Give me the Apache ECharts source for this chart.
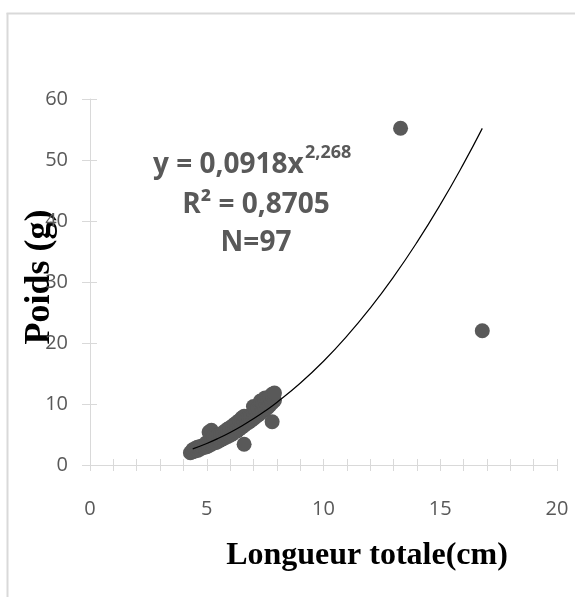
<!DOCTYPE html>
<html>
<head>
<meta charset="utf-8">
<script src="https://cdn.jsdelivr.net/npm/echarts@6/dist/echarts.min.js"></script>
<style>html,body{margin:0;padding:0;background:#fff;}#c{width:575px;height:597px;}</style>
</head>
<body>
<div id="c"></div>
<script>
// Observed data (length cm, weight g)
var lengthCm = [4.3,4.4,4.4,4.5,4.5,4.6,4.6,4.7,4.7,4.8,4.8,4.9,4.9,
  5.0,5.0,5.0,5.1,5.1,5.1,5.2,5.2,5.2,5.3,5.3,5.3,5.4,5.4,5.4,5.5,5.5,5.5,
  5.6,5.6,5.6,5.7,5.7,5.7,5.8,5.8,5.8,5.9,5.9,5.9,6.0,6.0,6.0,6.1,6.1,6.1,
  6.2,6.2,6.2,6.3,6.3,6.3,6.4,6.4,6.4,6.5,6.5,6.5,6.6,6.6,6.6,6.6,6.7,6.7,
  6.8,6.8,6.9,6.9,7.0,7.0,7.0,7.1,7.1,7.2,7.2,7.3,7.3,7.3,7.4,7.4,7.5,7.5,7.5,
  7.6,7.6,7.7,7.7,7.8,7.8,7.8,7.9,7.9,13.3,16.8];
var weightG = [2.0,2.2,2.5,2.3,2.7,2.4,2.9,2.6,3.0,2.8,3.1,2.9,3.3,
  3.0,3.4,3.7,3.2,3.6,5.4,3.4,3.9,5.7,3.6,4.1,4.8,3.7,4.2,4.6,3.9,4.4,4.9,
  4.1,4.6,5.1,4.3,4.8,5.3,4.5,5.0,5.6,4.7,5.2,5.9,4.9,5.5,6.1,5.1,5.7,6.4,
  5.4,6.0,6.7,5.6,6.3,7.0,5.9,6.6,7.3,6.2,6.9,7.7,3.4,6.5,7.2,8.0,6.8,7.5,
  7.0,7.8,7.3,8.2,7.6,8.6,9.6,7.9,9.0,8.2,9.4,8.5,9.8,10.5,8.8,10.1,9.1,10.4,11.0,
  9.4,10.8,9.8,11.2,7.1,10.2,11.6,10.6,11.8,55.2,22.0];
// Power trend line shown on chart: y = a * x^b
var trendA = 0.0918, trendB = 2.268;
var trendX = [4.4,5,5.5,6,6.5,7,7.5,8,9,10,11,12,13,14,15,16,16.8];
var xTicks = [0,5,10,15,20];
var yTicks = [0,10,20,30,40,50,60];

var pts = lengthCm.map(function(x,i){return [x, weightG[i]];});
var trend = trendX.map(function(x){return [x, trendA*Math.pow(x,trendB)];});

var grey = '#595959', axisGrey = '#d9d9d9';
var chart = echarts.init(document.getElementById('c'), null, {renderer:'canvas'});
var xBase = {type:'value', min:xTicks[0], max:xTicks[xTicks.length-1], interval:1, position:'bottom'};
var yBase = {type:'value', min:yTicks[0], max:yTicks[yTicks.length-1], interval:10, position:'left'};
chart.setOption({
  animation:false,
  backgroundColor:'#fff',
  grid:{left:90, right:18, top:99, bottom:132},
  xAxis:[
    Object.assign({}, xBase, {
      axisLine:{show:true, lineStyle:{color:axisGrey, width:1}},
      axisTick:{show:true, length:6, lineStyle:{color:axisGrey}},
      splitLine:{show:false},
      axisLabel:{margin:34, color:grey, fontSize:20, fontFamily:'Open Sans',
        formatter:function(v){return xTicks.indexOf(v)>=0 ? String(v) : '';}}
    }),
    Object.assign({}, xBase, {
      axisLine:{show:false}, axisTick:{show:true, inside:true, length:6, lineStyle:{color:axisGrey}},
      splitLine:{show:false}, axisLabel:{show:false}
    })
  ],
  yAxis:[
    Object.assign({}, yBase, {
      axisLine:{show:true, lineStyle:{color:axisGrey, width:1}},
      axisTick:{show:true, length:8, lineStyle:{color:axisGrey}},
      splitLine:{show:false},
      axisLabel:{margin:22, color:grey, fontSize:20, fontFamily:'Open Sans'}
    }),
    Object.assign({}, yBase, {
      axisLine:{show:false}, axisTick:{show:true, inside:true, length:7, lineStyle:{color:axisGrey}},
      splitLine:{show:false}, axisLabel:{show:false}
    })
  ],
  series:[
    {type:'scatter', data:pts, symbolSize:15, itemStyle:{color:grey, opacity:1}, z:2},
    {type:'line', data:trend, smooth:true, showSymbol:false, symbol:'none',
      lineStyle:{color:'#000', width:1.2}, z:3}
  ],
  graphic:[
    {type:'line', shape:{x1:7.5, y1:13, x2:7.5, y2:597}, style:{stroke:'#d9d9d9', lineWidth:2}},
    {type:'line', shape:{x1:6.5, y1:13.5, x2:575, y2:13.5}, style:{stroke:'#d9d9d9', lineWidth:2}},
    {type:'text', x:153, y:165, style:{text:'y = 0,0918x', fill:grey, fontSize:28, fontWeight:'bold',
      fontFamily:'Open Sans', textAlign:'left', textVerticalAlign:'middle'}},
    {type:'text', x:305, y:153, style:{text:'2,268', fill:grey, fontSize:18, fontWeight:'bold',
      fontFamily:'Open Sans', textAlign:'left', textVerticalAlign:'middle'}},
    {type:'text', x:256, y:205, style:{text:'R² = 0,8705', fill:grey, fontSize:28, fontWeight:'bold',
      fontFamily:'Open Sans', textAlign:'center', textVerticalAlign:'middle'}},
    {type:'text', x:256, y:243, style:{text:'N=97', fill:grey, fontSize:28, fontWeight:'bold',
      fontFamily:'Open Sans', textAlign:'center', textVerticalAlign:'middle'}},
    {type:'text', x:367, y:556, style:{text:'Longueur totale(cm)', fill:'#000', fontSize:32, fontWeight:'bold',
      fontFamily:'Liberation Serif', textAlign:'center', textVerticalAlign:'middle'}},
    {type:'text', x:40, y:277, rotation:Math.PI/2, style:{text:'Poids (g)', fill:'#000', fontSize:36, fontWeight:'bold',
      fontFamily:'Liberation Serif', textAlign:'center', textVerticalAlign:'middle'}}
  ]
});
</script>
</body>
</html>
